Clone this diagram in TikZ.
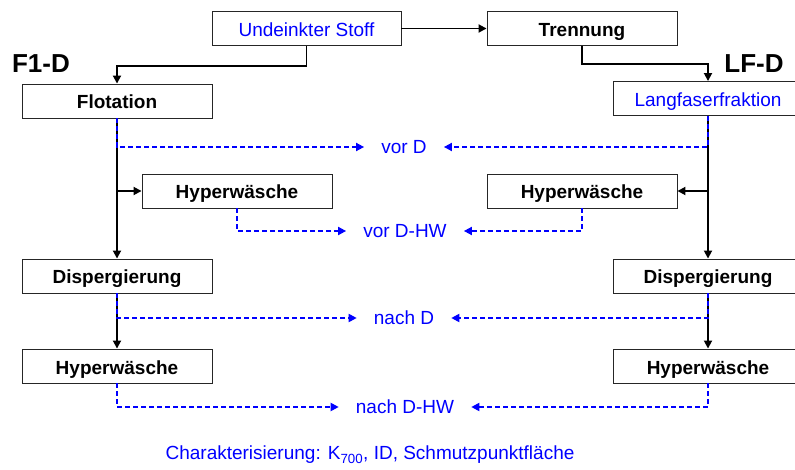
\documentclass[tikz,border=0pt]{standalone}
\usepackage{fontspec}
\setmainfont{Liberation Sans}
\usetikzlibrary{arrows.meta}

\begin{document}
\begin{tikzpicture}[x=1pt, y=-1pt,
		box/.style={draw=black!85, line width=0.9pt, fill=white, minimum width=190pt, minimum height=34pt, inner sep=0pt, text height=16pt, text depth=0pt, font=\fontsize{19}{22}\selectfont\bfseries},
		bluebox/.style={box, text=blue, font=\fontsize{19}{22}\selectfont},
		lbl/.style={text=blue, inner xsep=17pt, font=\fontsize{19}{22}\selectfont},
		flow/.style={line width=1.8pt, -{Triangle[length=8pt,width=8pt]}},
		probe/.style={blue, line width=1.8pt, dash pattern=on 5pt off 3pt, -{Triangle[length=8pt,width=8pt]}}]
		%%%%% START %%%%%
		
		\useasboundingbox (0, 0) rectangle (795, 470);
		\clip (0, 0) rectangle (795, 470);
		
		\node[bluebox, minimum width=189pt] (und) at (306.5, 28.5) {Undeinkter Stoff};
		\node[box] (tren) at (582, 28.5) {Trennung};
		
		\node[font=\fontsize{26}{28}\selectfont\bfseries] (f1d) at (41, 64) {F1-D};
		\node[font=\fontsize{26}{28}\selectfont\bfseries] (lfd) at (754, 64) {LF-D};
		
		\node[box] (flot) at (117, 101) {Flotation};
		\node[bluebox] (lang) at (708, 98.5) {Langfaserfraktion};
		
		\node[box] (hwl) at (237, 191) {Hyperwäsche};
		\node[box] (hwr) at (582, 191) {Hyperwäsche};
		
		\node[box] (displ) at (117, 276) {Dispergierung};
		\node[box] (dispr) at (708, 276) {Dispergierung};
		
		\node[box] (hwul) at (117, 366) {Hyperwäsche};
		\node[box] (hwur) at (708, 366) {Hyperwäsche};
		
		\node[lbl] (vord) at (404, 147) {vor D};
		\node[lbl] (vordhw) at (405, 231) {vor D-HW};
		\node[lbl] (nachd) at (404, 318) {nach D};
		\node[lbl] (nachdhw) at (405, 407) {nach D-HW};
		
		\node[text=blue, font=\fontsize{19}{22}\selectfont] (charakt) at (370, 455) {Charakterisierung: K\textsubscript{700}, ID, Schmutzpunktfläche};
		
		% main lines
		\draw[flow] (und) -- (tren);
		\draw[flow] (und.south) -- ++(0, 20) -| (flot.north);
		\draw[flow] (tren.south) -- ++(0, 18) -| (lang.north);
		
		\draw[flow] (flot) -- (displ);
		\draw[flow] (flot.south |- hwl.west) -- (hwl.west);
		\draw[flow] (displ) -- (hwul);
		
		\draw[flow] (lang) -- (dispr);
		\draw[flow] (lang.south |- hwr.east) -- (hwr.east);
		\draw[flow] (dispr) -- (hwur);
		
		% sampling points
		\draw[probe] (flot.south) |- (vord.west);
		\draw[probe] (lang.south) |- (vord.east);
		\draw[probe] (hwl.south) |- (vordhw.west);
		\draw[probe] (hwr.south) |- (vordhw.east);
		\draw[probe] (displ.south) |- (nachd.west);
		\draw[probe] (dispr.south) |- (nachd.east);
		\draw[probe] (hwul.south) |- (nachdhw.west);
		\draw[probe] (hwur.south) |- (nachdhw.east);
		
		%%%%% END %%%%%
	\end{tikzpicture}
\end{document}
